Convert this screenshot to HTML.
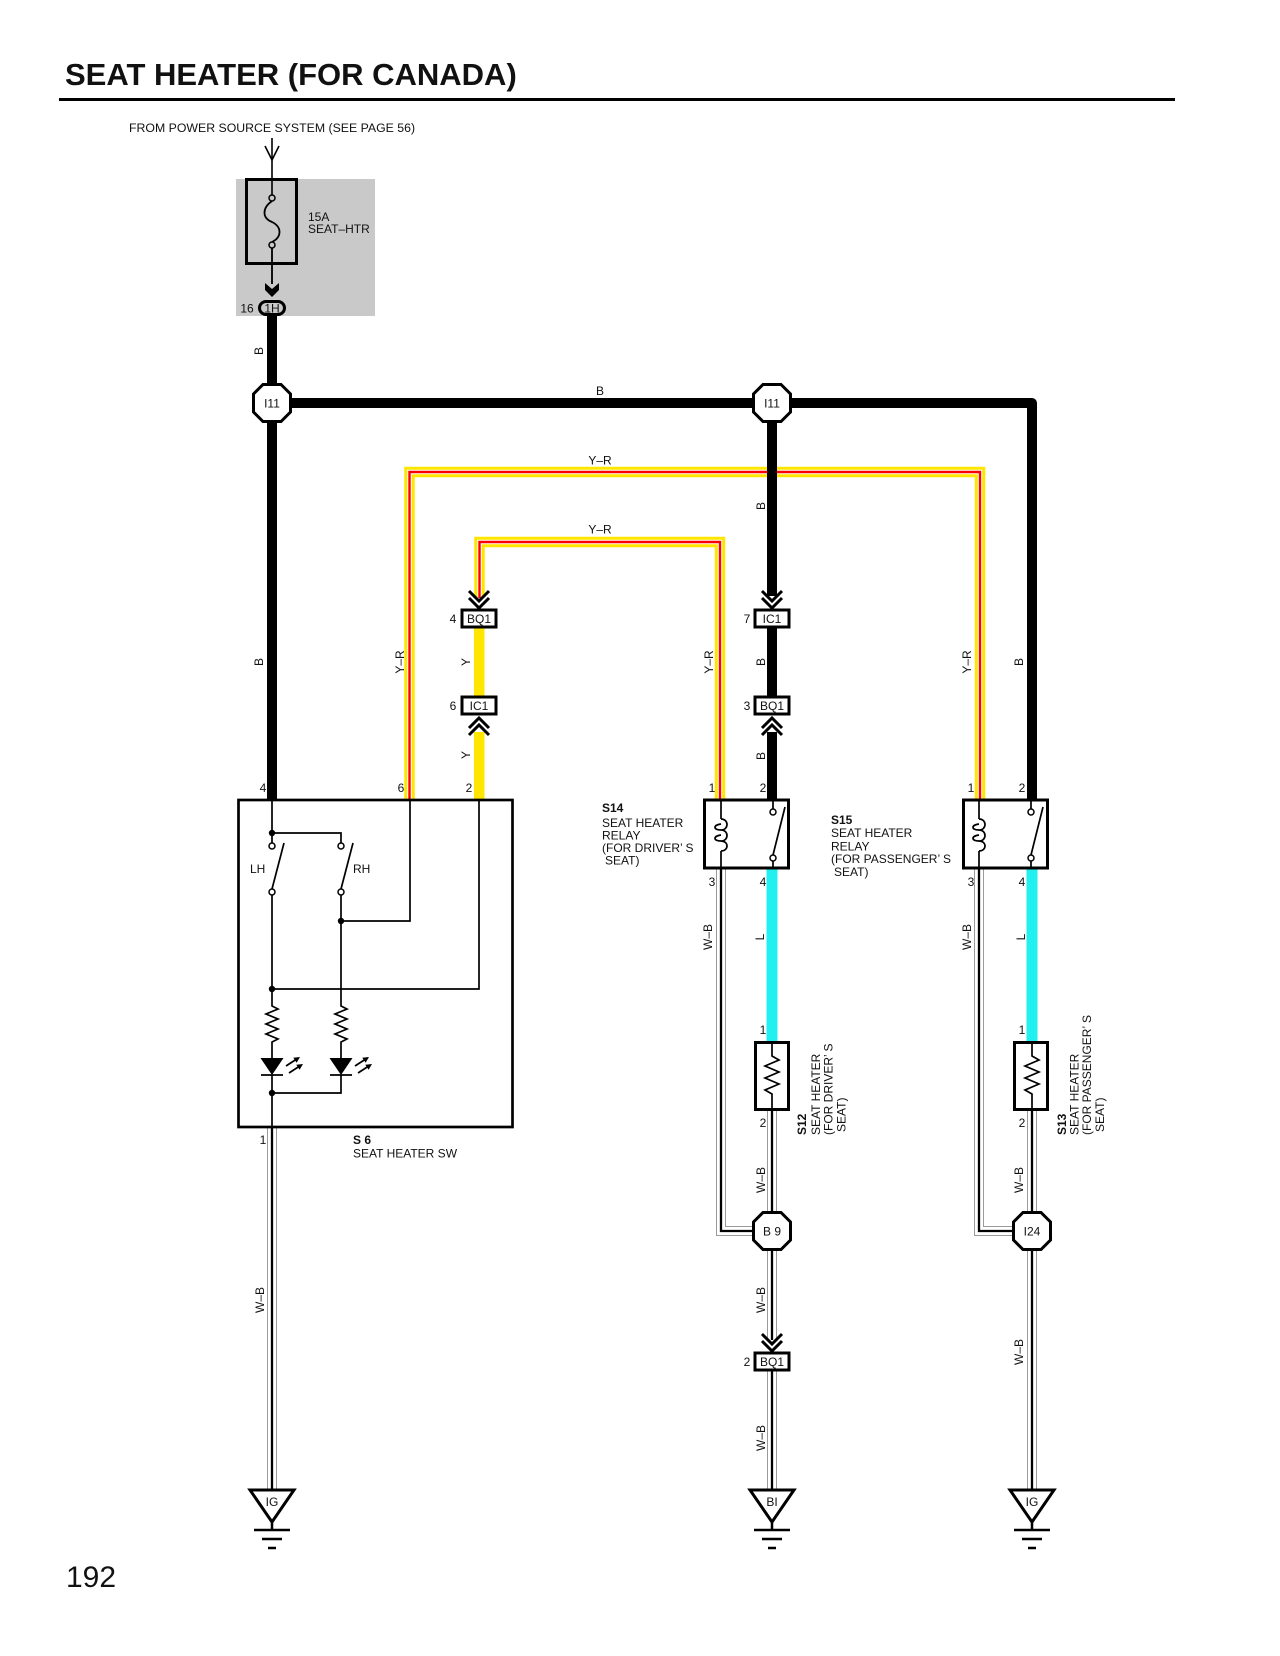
<!DOCTYPE html>
<html><head><meta charset="utf-8">
<style>
html,body{margin:0;padding:0;background:#fff;}
svg{display:block;}
text{font-family:"Liberation Sans",Arial,sans-serif;fill:#111;}
</style></head><body>
<svg width="1280" height="1656" viewBox="0 0 1280 1656" xmlns="http://www.w3.org/2000/svg">
<rect width="1280" height="1656" fill="#fff"/>

<!-- Title -->
<text x="65" y="85" font-size="31" font-weight="bold">SEAT HEATER (FOR CANADA)</text>
<rect x="59" y="98" width="1116" height="3" fill="#000"/>
<text x="129" y="132" font-size="12.3">FROM POWER SOURCE SYSTEM (SEE PAGE 56)</text>

<!-- Fuse block -->
<rect x="236" y="179" width="139" height="137" fill="#c9c9c9"/>
<line x1="272" y1="138" x2="272" y2="284" stroke="#000" stroke-width="1.6"/>
<polyline points="265,146 272,160 279,146" fill="none" stroke="#000" stroke-width="1.6"/>
<rect x="246.5" y="179.5" width="50" height="84" fill="none" stroke="#000" stroke-width="3"/>
<rect x="268" y="200" width="8" height="45" fill="#c9c9c9"/>
<path d="M272 201 C262 208,262 218,272 222 C282 227,282 237,272 242" fill="none" stroke="#000" stroke-width="1.8"/>
<circle cx="272" cy="198" r="3" fill="#c9c9c9" stroke="#000" stroke-width="1.5"/>
<circle cx="272" cy="245" r="3" fill="#c9c9c9" stroke="#000" stroke-width="1.5"/>
<line x1="272" y1="248" x2="272" y2="284" stroke="#000" stroke-width="1.6"/>
<polygon points="265,283 272,289 279,283 279,290 272,297 265,290" fill="#000"/>
<text x="308" y="221" font-size="12">15A</text>
<text x="308" y="233" font-size="12">SEAT–HTR</text>

<!-- Y-R wires -->
<g fill="none" stroke-linejoin="miter">
<path d="M409.5 799 V472 H980 V799 M479.5 598 V542 H720 V799" stroke="#ffe600" stroke-width="10.5"/>
<path d="M409.5 799 V472 H980 V799 M479.5 598 V542 H720 V799" stroke="#fff" stroke-width="4.5"/>
<path d="M409.5 799 V472 H980 V799 M479.5 598 V542 H720 V799" stroke="#ff0000" stroke-width="2.4"/>
</g>
<!-- Y wires -->
<rect x="474" y="628" width="10.5" height="68" fill="#ffe600"/>
<rect x="474" y="732" width="10.5" height="67" fill="#ffe600"/>
<!-- L wires -->
<rect x="766.5" y="869" width="11" height="172" fill="#22f0f0"/>
<rect x="1026.5" y="869" width="11" height="172" fill="#22f0f0"/>

<!-- W-B wires -->
<g fill="none" stroke-linejoin="miter">
<path d="M272 1128 V1490 M721 869 V1231 H754 M772 1111 V1213 M772 1249 V1340 M772 1370 V1490 M979 869 V1231 H1014 M1032 1111 V1213 M1032 1249 V1490" stroke="#9a9a9a" stroke-width="10"/>
<path d="M272 1128 V1490 M721 869 V1231 H754 M772 1111 V1213 M772 1249 V1340 M772 1370 V1490 M979 869 V1231 H1014 M1032 1111 V1213 M1032 1249 V1490" stroke="#fff" stroke-width="8"/>
<path d="M272 1128 V1490 M721 869 V1231 H754 M772 1111 V1213 M772 1249 V1340 M772 1370 V1490 M979 869 V1231 H1014 M1032 1111 V1213 M1032 1249 V1490" stroke="#000" stroke-width="2.3"/>
</g>

<!-- B thick wires -->
<g fill="none" stroke="#000" stroke-width="10" stroke-linejoin="round">
<path d="M272 316 V799"/>
<path d="M272 403 H1032 V799"/>
<path d="M772 403 V596"/>
<path d="M772 628 V696"/>
<path d="M772 732 V799"/>
</g>

<!-- 1H connector -->
<rect x="259.5" y="301.5" width="25" height="13" rx="6.5" fill="#c9c9c9" stroke="#000" stroke-width="3"/>
<text x="272" y="308.5" font-size="12" text-anchor="middle" dominant-baseline="central">1H</text>
<text x="247" y="308.5" font-size="12" text-anchor="middle" dominant-baseline="central">16</text>

<!-- Octagons -->
<g fill="#fff" stroke="#000" stroke-width="3">
<polygon points="263,384.5 281,384.5 290.5,394 290.5,412 281,421.5 263,421.5 253.5,412 253.5,394"/>
<polygon points="763,384.5 781,384.5 790.5,394 790.5,412 781,421.5 763,421.5 753.5,412 753.5,394"/>
<polygon points="763,1212.5 781,1212.5 790.5,1222 790.5,1240 781,1249.5 763,1249.5 753.5,1240 753.5,1222"/>
<polygon points="1023,1212.5 1041,1212.5 1050.5,1222 1050.5,1240 1041,1249.5 1023,1249.5 1013.5,1240 1013.5,1222"/>
</g>
<g font-size="12" text-anchor="middle" dominant-baseline="central">
<text x="272" y="403.5">I11</text>
<text x="772" y="403.5">I11</text>
<text x="772" y="1231.5">B 9</text>
<text x="1032" y="1231.5">I24</text>
</g>

<!-- Connector boxes -->
<g fill="#fff" stroke="#000" stroke-width="3">
<rect x="462" y="610" width="34" height="17"/>
<rect x="462" y="697" width="34" height="17"/>
<rect x="755" y="610" width="34" height="17"/>
<rect x="755" y="697" width="34" height="17"/>
<rect x="755" y="1353" width="34" height="17"/>
</g>
<g font-size="12" text-anchor="middle" dominant-baseline="central">
<text x="479" y="619">BQ1</text>
<text x="479" y="706">IC1</text>
<text x="772" y="619">IC1</text>
<text x="772" y="706">BQ1</text>
<text x="772" y="1362">BQ1</text>
<text x="453" y="619">4</text>
<text x="453" y="706">6</text>
<text x="747" y="619">7</text>
<text x="747" y="706">3</text>
<text x="747" y="1362">2</text>
</g>

<!-- Chevrons -->
<g fill="none" stroke="#000" stroke-width="3">
<polyline points="469,591 479,601 489,591"/><polyline points="469,598 479,608 489,598"/>
<polyline points="469,728 479,718 489,728"/><polyline points="469,735 479,725 489,735"/>
<polyline points="762,591 772,601 782,591"/><polyline points="762,598 772,608 782,598"/>
<polyline points="762,728 772,718 782,728"/><polyline points="762,735 772,725 782,735"/>
<polyline points="762,1334 772,1344 782,1334"/><polyline points="762,1341 772,1351 782,1341"/>
</g>

<!-- Seat heater switch S6 -->
<rect x="238.5" y="800" width="274" height="327" fill="none" stroke="#000" stroke-width="2.7"/>
<g fill="none" stroke="#000" stroke-width="1.7">
<path d="M272 800 V833 H341 V843"/>
<path d="M272 833 V843"/>
<path d="M272 889 L284 843"/>
<path d="M341 889 L353 843"/>
<path d="M341 895 V921 H410 V800"/>
<path d="M272 895 V989 H479 V800"/>
<path d="M272 989 V1006 L278 1009 L266 1014 L278 1019 L266 1024 L278 1029 L266 1034 L278 1039 L272 1042 V1058"/>
<path d="M341 921 V1006 L347 1009 L335 1014 L347 1019 L335 1024 L347 1029 L335 1034 L347 1039 L341 1042 V1058"/>
<path d="M261 1075 H283 M330 1075 H352"/>
<path d="M272 1075 V1128 M341 1075 V1093 H272"/>
<path d="M286 1066 L296 1059.5 M289 1073 L299 1066.5 M355 1066 L365 1059.5 M358 1073 L368 1066.5"/>
</g>
<g fill="#000">
<polygon points="260.5,1058 283.5,1058 272,1075"/>
<polygon points="329.5,1058 352.5,1058 341,1075"/>
<polygon points="300,1057 296.6,1062.8 293.3,1057.7"/>
<polygon points="303,1064 299.6,1069.8 296.3,1064.7"/>
<polygon points="369,1057 365.6,1062.8 362.3,1057.7"/>
<polygon points="372,1064 368.6,1069.8 365.3,1064.7"/>
<circle cx="272" cy="833" r="3.2"/>
<circle cx="341" cy="921" r="3.2"/>
<circle cx="272" cy="989" r="3.2"/>
<circle cx="272" cy="1093" r="3.2"/>
</g>
<g fill="#fff" stroke="#000" stroke-width="1.5">
<circle cx="272" cy="846" r="3"/><circle cx="341" cy="846" r="3"/>
<circle cx="272" cy="892" r="3"/><circle cx="341" cy="892" r="3"/>
</g>
<g font-size="12" dominant-baseline="central">
<text x="250" y="869">LH</text>
<text x="353" y="869">RH</text>
<text x="353" y="1140" font-weight="bold">S 6</text>
<text x="353" y="1153.5">SEAT HEATER SW</text>
</g>

<!-- Relays -->
<g fill="none" stroke="#000" stroke-width="3">
<rect x="704.5" y="800" width="84" height="68"/>
<rect x="963.5" y="800" width="84" height="68"/>
<rect x="755.5" y="1042.5" width="33" height="67"/>
<rect x="1014.5" y="1042.5" width="33" height="67"/>
</g>
<g fill="none" stroke="#000" stroke-width="1.7">
<path d="M721 800 V819 M721 851 V868"/>
<path d="M721 819 C729 819,729 830,721 830 C713 830,713 825,721 824 M721 830 C729 830,729 841,721 841 C713 841,713 836,721 835 M721 841 C729 841,729 851,721 851"/>
<path d="M773 800 V809 M773 861 V868 M773 855 L785 807"/>
<path d="M979 800 V819 M979 851 V868"/>
<path d="M979 819 C987 819,987 830,979 830 C971 830,971 825,979 824 M979 830 C987 830,987 841,979 841 C971 841,971 836,979 835 M979 841 C987 841,987 851,979 851"/>
<path d="M1031 800 V809 M1031 861 V868 M1031 855 L1043 807"/>
<path d="M772 1042 V1056 L779 1060 L765 1066 L779 1072 L765 1078 L779 1084 L765 1090 L772 1094 V1110"/>
<path d="M1032 1042 V1056 L1039 1060 L1025 1066 L1039 1072 L1025 1078 L1039 1084 L1025 1090 L1032 1094 V1110"/>
</g>
<g fill="#fff" stroke="#000" stroke-width="1.5">
<circle cx="773" cy="812" r="3"/><circle cx="773" cy="858" r="3"/>
<circle cx="1031" cy="812" r="3"/><circle cx="1031" cy="858" r="3"/>
</g>

<!-- Relay labels -->
<g font-size="12" dominant-baseline="central">
<text x="602" y="808" font-weight="bold">S14</text>
<text x="602" y="823">SEAT HEATER</text>
<text x="602" y="835.5">RELAY</text>
<text x="602" y="848">(FOR DRIVER’ S</text>
<text x="605" y="860.5">SEAT)</text>
<text x="831" y="820" font-weight="bold">S15</text>
<text x="831" y="833">SEAT HEATER</text>
<text x="831" y="846.5">RELAY</text>
<text x="831" y="859">(FOR PASSENGER’ S</text>
<text x="834" y="872">SEAT)</text>
</g>

<!-- Heater labels vertical -->
<g font-size="12" dominant-baseline="central">
<text transform="translate(802 1135) rotate(-90)" font-weight="bold">S12</text>
<text transform="translate(816 1135) rotate(-90)">SEAT HEATER</text>
<text transform="translate(828.5 1135) rotate(-90)">(FOR DRIVER’ S</text>
<text transform="translate(841.5 1132) rotate(-90)">SEAT)</text>
<text transform="translate(1062 1135) rotate(-90)" font-weight="bold">S13</text>
<text transform="translate(1074.5 1135) rotate(-90)">SEAT HEATER</text>
<text transform="translate(1087 1135) rotate(-90)">(FOR PASSENGER’ S</text>
<text transform="translate(1100 1132) rotate(-90)">SEAT)</text>
</g>

<!-- Pin numbers -->
<g font-size="12" text-anchor="middle" dominant-baseline="central">
<text x="263" y="788">4</text>
<text x="401" y="788">6</text>
<text x="469" y="788">2</text>
<text x="263" y="1140">1</text>
<text x="712" y="788">1</text>
<text x="763" y="788">2</text>
<text x="712" y="882">3</text>
<text x="763" y="882">4</text>
<text x="971" y="788">1</text>
<text x="1022" y="788">2</text>
<text x="971" y="882">3</text>
<text x="1022" y="882">4</text>
<text x="763" y="1030">1</text>
<text x="763" y="1123">2</text>
<text x="1022" y="1030">1</text>
<text x="1022" y="1123">2</text>
</g>

<!-- Wire labels horizontal -->
<g font-size="12" text-anchor="middle" dominant-baseline="central">
<text x="600" y="391">B</text>
<text x="600" y="460.5">Y–R</text>
<text x="600" y="529.5">Y–R</text>
</g>
<!-- Wire labels vertical -->
<g font-size="12" text-anchor="middle" dominant-baseline="central">
<text transform="translate(259 351) rotate(-90)">B</text>
<text transform="translate(259 662) rotate(-90)">B</text>
<text transform="translate(400 662) rotate(-90)">Y–R</text>
<text transform="translate(466 662) rotate(-90)">Y</text>
<text transform="translate(466 755) rotate(-90)">Y</text>
<text transform="translate(709 662) rotate(-90)">Y–R</text>
<text transform="translate(761 506) rotate(-90)">B</text>
<text transform="translate(761 662) rotate(-90)">B</text>
<text transform="translate(761 756) rotate(-90)">B</text>
<text transform="translate(967 662) rotate(-90)">Y–R</text>
<text transform="translate(1019 662) rotate(-90)">B</text>
<text transform="translate(708 937) rotate(-90)">W–B</text>
<text transform="translate(760 937) rotate(-90)">L</text>
<text transform="translate(967 937) rotate(-90)">W–B</text>
<text transform="translate(1021 937) rotate(-90)">L</text>
<text transform="translate(761 1180) rotate(-90)">W–B</text>
<text transform="translate(1019 1180) rotate(-90)">W–B</text>
<text transform="translate(761 1300) rotate(-90)">W–B</text>
<text transform="translate(761 1438) rotate(-90)">W–B</text>
<text transform="translate(1019 1352) rotate(-90)">W–B</text>
<text transform="translate(260 1300) rotate(-90)">W–B</text>
</g>

<!-- Grounds -->
<g fill="#fff" stroke="#000" stroke-width="3" stroke-linejoin="miter">
<polygon points="250,1490 294,1490 272,1522"/>
<polygon points="750,1490 794,1490 772,1522"/>
<polygon points="1010,1490 1054,1490 1032,1522"/>
</g>
<g stroke="#000" stroke-width="2.5" fill="none">
<path d="M272 1522 V1530 M254 1530 H290 M262 1539 H282 M268 1548 H276"/>
<path d="M772 1522 V1530 M754 1530 H790 M762 1539 H782 M768 1548 H776"/>
<path d="M1032 1522 V1530 M1014 1530 H1050 M1022 1539 H1042 M1028 1548 H1036"/>
</g>
<g font-size="12" text-anchor="middle" dominant-baseline="central">
<text x="272" y="1502">IG</text>
<text x="772" y="1502">BI</text>
<text x="1032" y="1502">IG</text>
</g>

<!-- Page number -->
<text x="66" y="1587" font-size="30">192</text>
</svg>
</body></html>
